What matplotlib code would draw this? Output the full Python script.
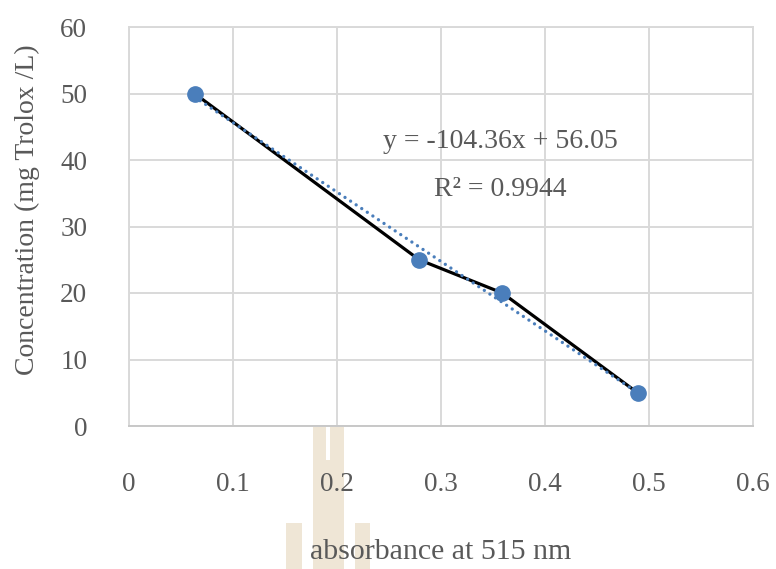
import numpy as np
import matplotlib
matplotlib.use("Agg")
import matplotlib.pyplot as plt
from matplotlib.patches import Rectangle

# absorbance at 515 nm vs Trolox standard concentration
absorbance = [0.063, 0.279, 0.359, 0.489]
concentration = [50, 25, 20, 5]

# linear trendline as printed on the chart
slope = -104.36
intercept = 56.05
r_squared = 0.9944

x_ticks = [0, 0.1, 0.2, 0.3, 0.4, 0.5, 0.6]
y_ticks = [0, 10, 20, 30, 40, 50, 60]

plt.rcParams['font.family'] = ['Liberation Serif', 'DejaVu Serif']
txt = '#595959'
blue = '#4a7ebb'
grid = '#d9d9d9'

W, H = 776, 569
fig = plt.figure(figsize=(W / 100, H / 100), dpi=100)
ax = fig.add_axes([129 / W, 1 - 426 / H, (753 - 129) / W, (426 - 27) / H])

# watermark logo behind the x label (pixel boxes -> figure fraction)
def px_box(x0, y0, x1, y1):
    fig.patches.append(Rectangle((x0 / W, 1 - y1 / H), (x1 - x0) / W, (y1 - y0) / H,
                                 transform=fig.transFigure, color='#efe6d6',
                                 zorder=-1, lw=0))

px_box(313, 427, 326, 569)
px_box(330, 427, 344, 569)
px_box(326, 460, 330, 569)
px_box(286, 523, 302, 569)
px_box(355, 523, 370, 569)

ax.plot(absorbance, concentration, color='black', lw=2.3, zorder=3)
trend_x = np.array([min(absorbance), max(absorbance)])
ax.plot(trend_x, slope * trend_x + intercept, color=blue, lw=2.4,
        linestyle=(0, (0.01, 2.0)), dash_capstyle='round', zorder=4)
ax.plot(absorbance, concentration, 'o', color=blue, ms=11, zorder=5)

ax.set_xlim(0, 0.6)
ax.set_ylim(0, 60)
ax.set_xticks(x_ticks)
ax.set_yticks(y_ticks)
ax.set_xticklabels([f'{v:g}' for v in x_ticks])
ax.grid(True, color=grid, lw=1.4)
ax.set_axisbelow(True)
for s in ax.spines.values():
    s.set_color(grid)
    s.set_linewidth(1.4)
ax.spines['bottom'].set_color('#c8c8c8')
ax.tick_params(length=0, labelsize=19.5, labelcolor=txt)
ax.tick_params(axis='x', pad=33)
ax.tick_params(axis='y', pad=30)

ax.set_xlabel('absorbance at 515 nm', fontsize=21.5, color=txt)
ax.xaxis.set_label_coords(0.5, -0.334)
ax.xaxis.label.set_verticalalignment('baseline')
ax.set_ylabel('Concentration (mg Trolox /L)', fontsize=20, color=txt)
ax.yaxis.set_label_coords(-0.163, 0.541)
ax.yaxis.label.set_verticalalignment('center')

ax.text(0.595, 0.697, f'y = {slope}x + {intercept}', transform=ax.transAxes,
        ha='center', va='baseline', fontsize=20, color=txt)
ax.text(0.595, 0.576, f'R² = {r_squared}', transform=ax.transAxes,
        ha='center', va='baseline', fontsize=20, color=txt)

fig.savefig('out.png', dpi=100)
